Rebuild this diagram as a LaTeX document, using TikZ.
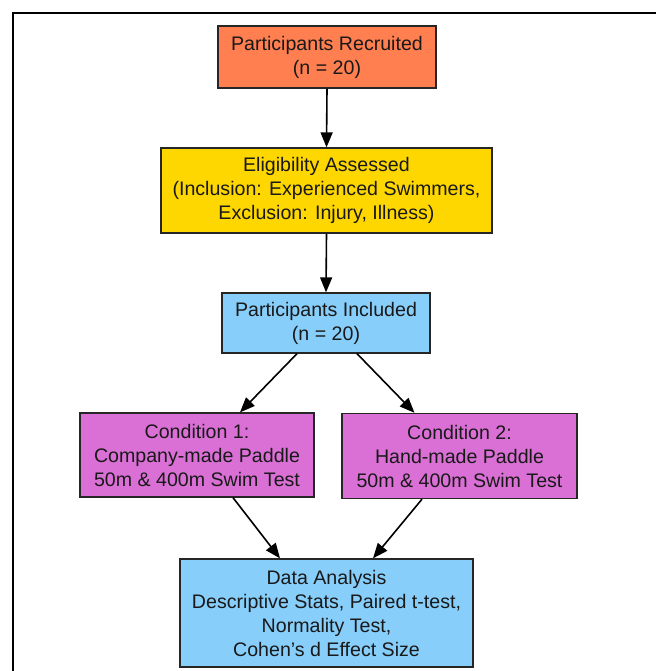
\documentclass[tikz,border=0pt]{standalone}
\usepackage{fontspec}
\setmainfont{Liberation Sans}
\usetikzlibrary{arrows.meta}
\definecolor{recruitc}{HTML}{FF7F50}
\definecolor{eligc}{HTML}{FFD700}
\definecolor{skyc}{HTML}{87CEFA}
\definecolor{condc}{HTML}{DA70D6}
\tikzset{
  flowbox/.style={draw=black!85, line width=1.3pt, align=center, inner sep=0pt,
    font=\fontsize{19.6}{24}\selectfont, text=black!90},
  flowarrow/.style={line width=1.6pt, -{Triangle[length=15pt,width=12pt]}}
}
\begin{document}
\begin{tikzpicture}[x=1pt, y=-1pt]
\useasboundingbox (0,0) rectangle (655,671);
\draw[line width=1.4pt] (13,680) -- (13,13) -- (660,13);
\node[flowbox, fill=recruitc, minimum width=218pt, minimum height=62pt] (recruit) at (327,57) {Participants Recruited\\(n = 20)};
\node[flowbox, fill=eligc, minimum width=331pt, minimum height=85pt] (elig) at (326.5,190.5) {Eligibility Assessed\\(Inclusion: Experienced Swimmers,\\Exclusion: Injury, Illness)};
\node[flowbox, fill=skyc, minimum width=208pt, minimum height=60pt] (incl) at (326,323) {Participants Included\\(n = 20)};
\node[flowbox, fill=condc, minimum width=234pt, minimum height=84pt] (cond1) at (197,455) {Condition 1:\\Company-made Paddle\\50m \& 400m Swim Test};
\node[flowbox, fill=condc, minimum width=235pt, minimum height=85pt] (cond2) at (459.5,456) {Condition 2:\\Hand-made Paddle\\50m \& 400m Swim Test};
\node[flowbox, fill=skyc, minimum width=293pt, minimum height=108pt] (data) at (326.5,613) {Data Analysis\\Descriptive Stats, Paired t-test,\\Normality Test,\\Cohen’s d Effect Size};
\draw[flowarrow] (recruit.south) -- (elig.north);
\draw[flowarrow] (elig.south) -- (incl.north);
\draw[flowarrow] ([xshift=-29pt]incl.south) -- ([xshift=43pt]cond1.north);
\draw[flowarrow] ([xshift=31pt]incl.south) -- ([xshift=-45pt]cond2.north);
\draw[flowarrow] ([xshift=36pt]cond1.south) -- ([xshift=-46.5pt]data.north);
\draw[flowarrow] ([xshift=-37.5pt]cond2.south) -- ([xshift=46.5pt]data.north);
\end{tikzpicture}
\end{document}
